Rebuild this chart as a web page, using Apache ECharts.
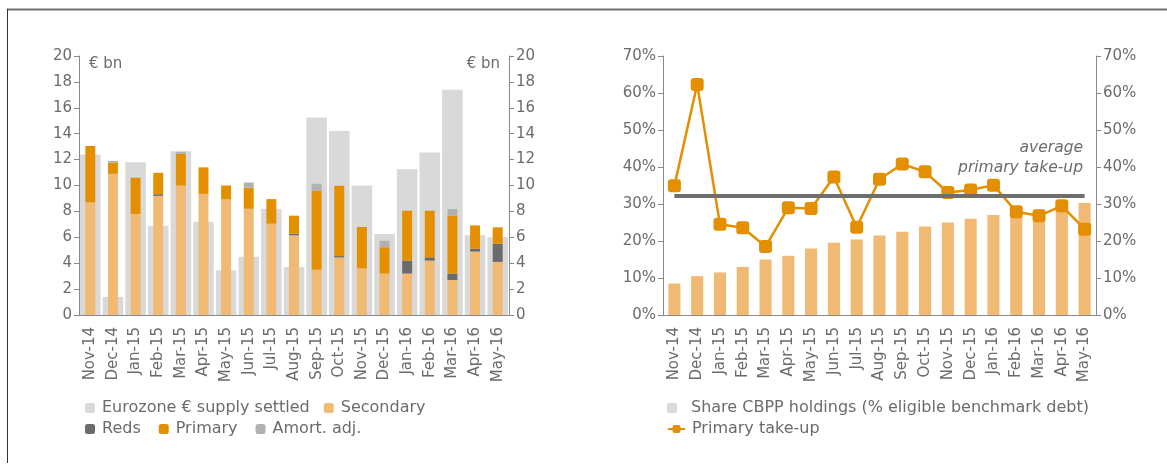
<!DOCTYPE html>
<html>
<head>
<meta charset="utf-8">
<script src="https://cdn.jsdelivr.net/npm/echarts@6/dist/echarts.min.js"></script>
<style>
  html, body { margin: 0; padding: 0; background: #fff; }
  #chart { width: 1167px; height: 467px; }
</style>
</head>
<body>
<div id="chart"></div>
<script>
// months on both charts
var months = ["Nov-14", "Dec-14", "Jan-15", "Feb-15", "Mar-15", "Apr-15", "May-15", "Jun-15", "Jul-15", "Aug-15",
  "Sep-15", "Oct-15", "Nov-15", "Dec-15", "Jan-16", "Feb-16", "Mar-16", "Apr-16", "May-16"];

// left chart, € bn
var supply = [12.4, 1.4, 11.8, 6.9, 12.65, 7.2, 3.45, 4.5, 8.2, 3.7, 15.25, 14.2, 10.0, 6.25, 11.25, 12.55, 17.4, 6.15, 6.0];
var secondary = [8.7, 10.9, 7.8, 9.2, 10.0, 9.35, 8.95, 8.2, 7.05, 6.15, 3.5, 4.45, 3.6, 3.2, 3.2, 4.2, 2.7, 4.9, 4.1];
var reds = [0, 0, 0, 0.13, 0, 0, 0, 0, 0, 0.12, 0, 0.1, 0, 0, 1.0, 0.25, 0.5, 0.22, 1.4];
var primary = [4.35, 0.85, 2.8, 1.65, 2.45, 2.05, 1.05, 1.63, 1.9, 1.4, 6.1, 5.43, 3.2, 2.03, 3.85, 3.6, 4.48, 1.8, 1.27];
var amort = [0, 0.15, 0, 0, 0.15, 0, 0, 0.4, 0, 0, 0.53, 0, 0, 0.5, 0, 0, 0.5, 0, 0];

// right chart, %
var holdings = [8.5, 10.5, 11.5, 13.0, 15.0, 16.0, 18.0, 19.5, 20.4, 21.5, 22.5, 23.9, 25.0, 26.0, 27.0, 28.0, 28.5, 29.2, 30.3];
var takeup = [34.9, 62.3, 24.5, 23.6, 18.5, 29.0, 28.8, 37.3, 23.7, 36.7, 40.8, 38.7, 33.1, 33.8, 35.1, 27.9, 26.8, 29.5, 23.2];
var avgTakeup = 32.1;

var FONT = "DejaVu Sans";
var GREY_TXT = "#6b6b6b";
var AXIS = "#8a8a8a";

function catAxis(grid, show) {
  return {
    type: "category",
    gridIndex: grid,
    data: months,
    show: show,
    axisLine: { lineStyle: { color: AXIS } },
    axisTick: { length: 5, lineStyle: { color: AXIS } },
    axisLabel: { rotate: 90, margin: 12, interval: 0, color: GREY_TXT, fontFamily: FONT, fontSize: 15 }
  };
}

function valAxis(grid, pos, max, step, fmt) {
  return {
    type: "value",
    gridIndex: grid,
    position: pos,
    min: 0,
    max: max,
    interval: step,
    splitLine: { show: false },
    axisLine: { show: true, lineStyle: { color: AXIS } },
    axisTick: { show: true, length: 5, lineStyle: { color: AXIS } },
    axisLabel: { margin: 7, color: GREY_TXT, fontFamily: FONT, fontSize: 15, formatter: fmt }
  };
}

function stackBar(name, data, color) {
  return {
    name: name,
    type: "bar",
    xAxisIndex: 1,
    yAxisIndex: 0,
    stack: "flows",
    barWidth: "44%",
    itemStyle: { color: color },
    data: data
  };
}

function legendText(pad) {
  return { color: GREY_TXT, fontSize: 16, fontFamily: FONT, padding: [0, 0, 0, pad] };
}

var chart = echarts.init(document.getElementById("chart"));
chart.setOption({
  animation: false,
  textStyle: { fontFamily: FONT },
  grid: [
    { left: 79, right: 658, top: 56, bottom: 152 },
    { left: 663, right: 71, top: 56, bottom: 152 }
  ],
  xAxis: [catAxis(0, true), catAxis(0, false), catAxis(1, true)],
  yAxis: [
    valAxis(0, "left", 20, 2),
    valAxis(0, "right", 20, 2),
    valAxis(1, "left", 70, 10, "{value}%"),
    valAxis(1, "right", 70, 10, "{value}%")
  ],
  legend: [
    {
      left: 85, top: 400, padding: 0, itemWidth: 10, itemHeight: 10, itemGap: 14,
      textStyle: legendText(2),
      data: ["Eurozone € supply settled", "Secondary"]
    },
    {
      left: 85, top: 421, padding: 0, itemWidth: 10, itemHeight: 10, itemGap: 18,
      textStyle: legendText(2),
      data: ["Reds", "Primary", "Amort. adj."]
    },
    {
      left: 667, top: 400, padding: 0, itemWidth: 10, itemHeight: 10,
      textStyle: legendText(9),
      data: [{ name: "Share CBPP holdings (% eligible benchmark debt)", itemStyle: { color: "#d9d9d9" } }]
    },
    {
      left: 667, top: 421, padding: 0, itemWidth: 17, itemHeight: 10,
      textStyle: legendText(2),
      data: ["Primary take-up"]
    }
  ],
  graphic: [
    { type: "line", shape: { x1: 7, y1: 9.5, x2: 1167, y2: 9.5 }, style: { stroke: "#707070", lineWidth: 2 } },
    { type: "line", shape: { x1: 7.5, y1: 9, x2: 7.5, y2: 463 }, style: { stroke: "#333", lineWidth: 1 } },
    { type: "text", style: { x: 89, y: 64, text: "€ bn", fill: GREY_TXT, font: "15px " + FONT, verticalAlign: "middle" } },
    { type: "text", style: { x: 500, y: 64, text: "€ bn", fill: GREY_TXT, font: "15px " + FONT, align: "right", verticalAlign: "middle" } },
    { type: "text", style: { x: 1083, y: 148, text: "average", fill: GREY_TXT, font: "italic 15.5px " + FONT, align: "right", verticalAlign: "middle" } },
    { type: "text", style: { x: 1083, y: 168, text: "primary take-up", fill: GREY_TXT, font: "italic 15.5px " + FONT, align: "right", verticalAlign: "middle" } }
  ],
  series: [
    {
      name: "Eurozone € supply settled",
      type: "bar",
      xAxisIndex: 0,
      yAxisIndex: 0,
      barWidth: "91%",
      itemStyle: { color: "#d9d9d9" },
      data: supply
    },
    stackBar("Secondary", secondary, "#f0b974"),
    stackBar("Reds", reds, "#6b6b6b"),
    stackBar("Primary", primary, "#e38f00"),
    stackBar("Amort. adj.", amort, "#b1b1b1"),
    {
      name: "Share CBPP holdings (% eligible benchmark debt)",
      type: "bar",
      xAxisIndex: 2,
      yAxisIndex: 2,
      barWidth: "53%",
      itemStyle: { color: "#f0b974" },
      data: holdings
    },
    {
      name: "Primary take-up",
      type: "line",
      xAxisIndex: 2,
      yAxisIndex: 2,
      z: 4,
      symbol: "roundRect",
      symbolSize: 13,
      lineStyle: { color: "#e38f00", width: 2.5 },
      itemStyle: { color: "#e38f00" },
      data: takeup,
      markLine: {
        silent: true,
        symbol: "none",
        label: { show: false },
        lineStyle: { color: "#6e6e6e", width: 4, type: "solid" },
        data: [[{ coord: [0, avgTakeup] }, { coord: [months.length - 1, avgTakeup] }]]
      }
    }
  ]
});
</script>
</body>
</html>
